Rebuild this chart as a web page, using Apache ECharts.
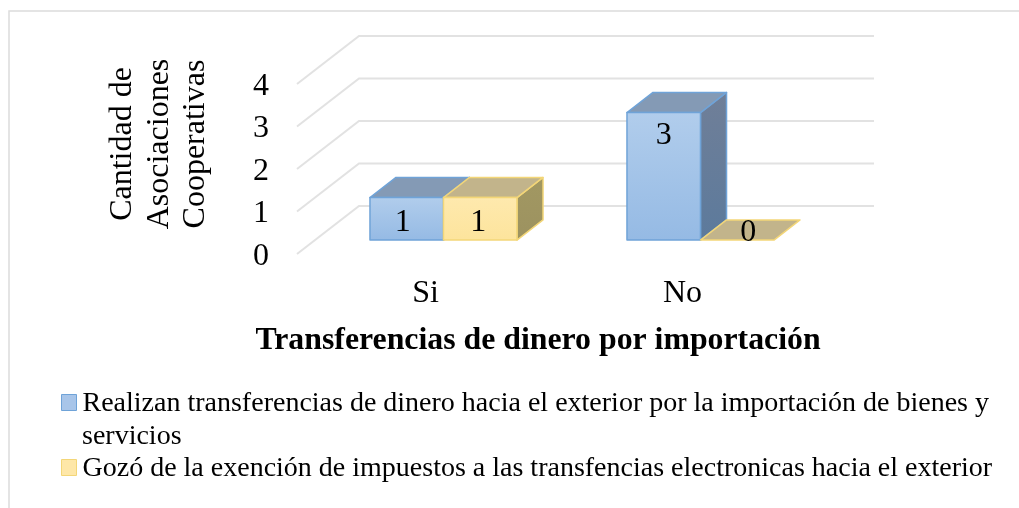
<!DOCTYPE html>
<html>
<head>
<meta charset="utf-8">
<style>html,body{margin:0;padding:0;background:#fff}#c{width:1019px;height:508px}</style>
<script src="https://cdn.jsdelivr.net/npm/echarts@6/dist/echarts.min.js"></script>
</head>
<body>
<div id="c"></div>
<script>
const categories = ['Si', 'No'];
const yTicks = [0, 1, 2, 3, 4];
const seriesNameA = 'Realizan transferencias de dinero hacia el exterior por la importación de bienes y servicios';
const seriesNameB = 'Gozó de la exención de impuestos a las transfencias electronicas hacia el exterior';
const valuesA = [1, 3];
const valuesB = [1, 0];
const yAxisTitle = 'Cantidad de\nAsociaciones\nCooperativas';
const xAxisTitle = 'Transferencias de dinero por importación';

const FONT = '"Liberation Serif", "Times New Roman", serif';
const DEPTH = [62, -48];        // floor depth vector in pixels
const NEAR = 0.29, FAR = 0.71;  // bar position within the floor depth
const BAR_BAND = 0.286;         // bar width as share of a category band

function grad(a, b) {
  return {type: 'linear', x: 0, y: 0, x2: 0, y2: 1, colorStops: [{offset: 0, color: a}, {offset: 1, color: b}]};
}
const styleA = {front: grad('#b1cdec', '#95bae4'), top: '#849ab5', side: grad('#707f98', '#5c7a9c'), stroke: '#6fa3d8'};
const styleB = {front: grad('#fee9ae', '#fde49c'), top: '#c2b48b', side: grad('#a29862', '#9c9260'), stroke: '#f3d678'};

function renderBar(style, barIndex, labelNudge) {
  return function (params, api) {
    const cat = api.value(0), val = api.value(1);
    const base = api.coord([cat, 0]), top = api.coord([cat, val]);
    const band = api.size([1, 0])[0], w = band * BAR_BAND;
    const x0 = base[0] + DEPTH[0] * NEAR + (barIndex - 1) * w;
    const x1 = x0 + w;
    const yB = base[1] + DEPTH[1] * NEAR, yT = top[1] + DEPTH[1] * NEAR;
    const dx = DEPTH[0] * (FAR - NEAR), dy = DEPTH[1] * (FAR - NEAR);
    const line = {stroke: style.stroke, lineWidth: 1.5, lineJoin: 'round'};
    const poly = (pts, fill) => ({type: 'polygon', shape: {points: pts}, style: Object.assign({fill: fill}, line)});
    const children = [];
    if (val > 0) {
      children.push(poly([[x1, yT], [x1 + dx, yT + dy], [x1 + dx, yB + dy], [x1, yB]], style.side));
      children.push(poly([[x0, yT], [x0 + dx, yT + dy], [x1 + dx, yT + dy], [x1, yT]], style.top));
      children.push(poly([[x0, yT], [x1, yT], [x1, yB], [x0, yB]], style.front));
    } else {
      children.push(poly([[x0, yT], [x0 + dx, yT + dy], [x1 + dx, yT + dy], [x1, yT]], style.top));
    }
    const n = labelNudge[params.dataIndex];
    children.push({
      type: 'text', z2: 10,
      style: {
        text: String(val), x: (x0 + x1) / 2 + n[0], y: yT + n[1],
        font: '32px ' + FONT, fill: '#000', textAlign: 'center', textVerticalAlign: 'middle'
      }
    });
    return {type: 'group', children: children};
  };
}

function renderGridLine(params, api) {
  const rect = params.coordSys;
  const y = api.coord([0, api.value(0)])[1];
  return {
    type: 'polyline',
    shape: {points: [[rect.x, y], [rect.x + DEPTH[0], y + DEPTH[1]], [rect.x + rect.width + DEPTH[0] + 1, y + DEPTH[1]]]},
    style: {stroke: '#e2e2e2', lineWidth: 2, fill: null}
  };
}

const chart = echarts.init(document.getElementById('c'), null, {renderer: 'canvas'});
chart.setOption({
  animation: false,
  backgroundColor: '#fff',
  textStyle: {fontFamily: FONT, color: '#000'},
  title: {
    text: xAxisTitle, left: 533, top: 320, textAlign: 'center',
    textStyle: {fontFamily: FONT, fontSize: 31.8, fontWeight: 'bold', color: '#000'}
  },
  grid: {left: 297, width: 514, top: 84, height: 170},
  xAxis: {
    type: 'category', data: categories,
    axisLine: {show: false}, axisTick: {show: false}, splitLine: {show: false},
    axisLabel: {fontFamily: FONT, fontSize: 32, color: '#000', margin: 24}
  },
  yAxis: {
    type: 'value', min: 0, max: 4, interval: 1,
    axisLine: {show: false}, axisTick: {show: false}, splitLine: {show: false},
    axisLabel: {
      fontFamily: FONT, fontSize: 32, color: '#000', margin: 28,
      formatter: '{v|{value}}',
      rich: {v: {fontFamily: FONT, fontSize: 32, color: '#000', padding: [5, 0, 0, 0]}}
    },
    name: yAxisTitle, nameLocation: 'middle', nameGap: 83, nameRotate: 90,
    nameTextStyle: {fontFamily: FONT, fontSize: 32, color: '#000', lineHeight: 36.5, padding: [0, 0, 0, 50]}
  },
  legend: {
    orient: 'vertical', left: 56, top: 385, itemGap: 37, itemWidth: 15, itemHeight: 16,
    data: [seriesNameA, seriesNameB].map((n, i) => ({
      name: n, icon: 'rect',
      itemStyle: {color: i ? '#fee7a8' : '#a8c5e9', borderColor: i ? '#f3d678' : '#6fa3d8', borderWidth: 1}
    })),
    selectedMode: false,
    formatter: n => '{t|' + n.replace(' servicios', '') + '}',
    textStyle: {
      fontFamily: FONT, fontSize: 28, color: '#000',
      rich: {t: {fontFamily: FONT, fontSize: 28, color: '#000', padding: [3, 0, 0, 1]}}
    }
  },
  graphic: [
    {type: 'rect', silent: true, z: -1, shape: {x: 9, y: 11, width: 1100, height: 600},
     style: {fill: null, stroke: '#dcdcdc', lineWidth: 1.5}},
    {type: 'text', silent: true, left: 82, top: 423, style: {text: 'servicios', font: '28px ' + FONT, fill: '#000'}}
  ],
  series: [
    {type: 'custom', name: 'grid', silent: true, clip: false, z: 1, renderItem: renderGridLine,
     encode: {y: 0}, data: yTicks.map(v => [v]), tooltip: {show: false}},
    {type: 'custom', name: seriesNameA, clip: false, z: 2, renderItem: renderBar(styleA, 0, [[-4, 25], [0, 23]]),
     encode: {x: 0, y: 1}, data: valuesA.map((v, i) => [i, v]), itemStyle: {color: '#a8c5e9'}},
    {type: 'custom', name: seriesNameB, clip: false, z: 3, renderItem: renderBar(styleB, 1, [[-2, 25], [11, -7]]),
     encode: {x: 0, y: 1}, data: valuesB.map((v, i) => [i, v]), itemStyle: {color: '#fee7a8'}}
  ]
});
</script>
</body>
</html>
